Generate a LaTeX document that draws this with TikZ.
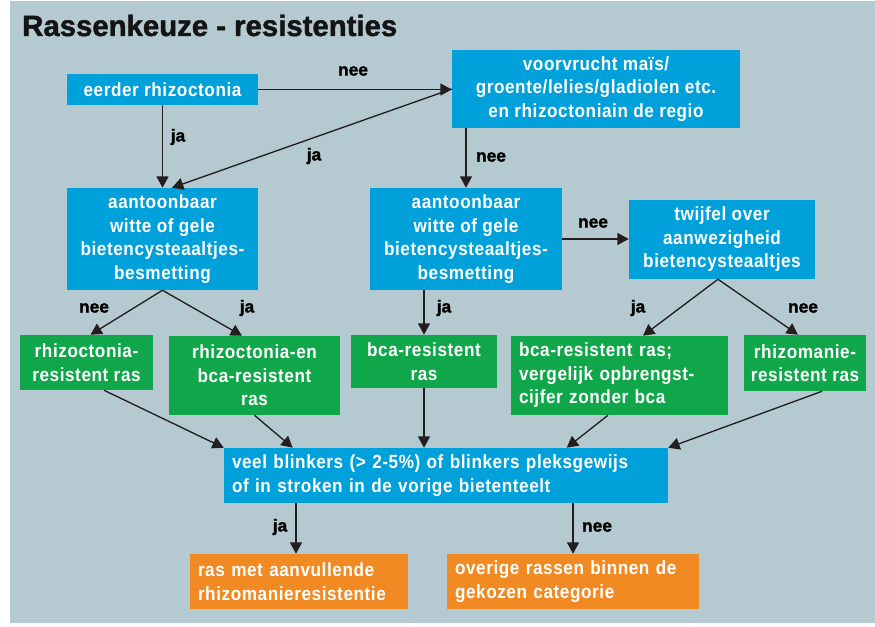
\documentclass[tikz,border=0pt]{standalone}
\usepackage{fontspec}
\setmainfont{Liberation Sans}
\newfontfamily\heavy[FakeBold=1.6]{Liberation Sans}
\newfontfamily\boxfont[FakeStretch=0.9,LetterSpace=3]{Liberation Sans}
\usetikzlibrary{arrows.meta,calc}
\definecolor{bg}{HTML}{B5C9D0}
\definecolor{bblue}{HTML}{00A0DB}
\definecolor{bgreen}{HTML}{10A64A}
\definecolor{borange}{HTML}{F18A22}
\definecolor{lin}{HTML}{231F20}
\begin{document}
\begin{tikzpicture}[x=0.75pt,y=-0.75pt,
  boxc/.style={inner sep=0pt, text=white, font=\boxfont\fontsize{14.3}{17.6}\selectfont\bfseries, align=center},
  boxl/.style={inner ysep=0pt, inner xsep=6pt, text=white, font=\boxfont\fontsize{14.3}{17.6}\selectfont\bfseries, align=left},
  blue/.style={fill=bblue},
  green/.style={fill=bgreen},
  orange/.style={fill=borange},
  lbl/.style={text=black, font=\heavy\fontsize{13}{15}\selectfont\bfseries, inner sep=0pt},
  arr/.style={draw=lin, line width=1pt, -{Triangle[length=8.5pt,width=9pt]}}
]
\useasboundingbox (0,0) rectangle (875,627);
\fill[bg] (10,1) rectangle (875,623);

\node[anchor=base west, inner sep=0pt, text=black!92, font=\heavy\fontsize{22}{26}\selectfont\bfseries] (title) at (22,36) {Rassenkeuze - resistenties};

% blue question boxes
\node[boxc, blue, minimum width=143.25pt, minimum height=23.25pt] (b1) at (162.5,89.5) {eerder rhizoctonia};
\node[boxc, blue, minimum width=216pt, minimum height=58.5pt] (b2) at (596,89) {voorvrucht maïs/\\groente/lelies/gladiolen etc.\\en rhizoctoniain de regio};
\node[boxc, blue, minimum width=143.25pt, minimum height=76.5pt] (b3) at (162.5,239) {aantoonbaar\\witte of gele\\bietencysteaaltjes-\\besmetting};
\node[boxc, blue, minimum width=144pt, minimum height=76.5pt] (b4) at (466,239) {aantoonbaar\\witte of gele\\bietencysteaaltjes-\\besmetting};
\node[boxc, blue, minimum width=139.5pt, minimum height=59.25pt] (b5) at (722,239.5) {twijfel over\\aanwezigheid\\bietencysteaaltjes};

% green result boxes
\node[boxc, green, minimum width=99.75pt, minimum height=41.25pt] (g1) at (86.5,362.5) {rhizoctonia-\\resistent ras};
\node[boxc, green, minimum width=128.25pt, minimum height=59.25pt] (g2) at (254.5,375.5) {rhizoctonia-en\\bca-resistent\\ras};
\node[boxc, green, minimum width=109.5pt, minimum height=39.75pt] (g3) at (424,361.5) {bca-resistent\\ras};
\node[boxl, green, text width=150.75pt, minimum height=59.25pt] (g4) at (619.5,375.5) {bca-resistent ras;\\vergelijk opbrengst-\\cijfer zonder bca};
\node[boxc, green, minimum width=91.5pt, minimum height=42pt] (g5) at (805,363) {rhizomanie-\\resistent ras};

% blinkers box
\node[boxl, blue, text width=321pt, minimum height=41.25pt] (v) at (446,475.5) {veel blinkers (> 2-5\%) of blinkers pleksgewijs\\of in stroken in de vorige bietenteelt};

% orange boxes
\node[boxl, orange, text width=151.5pt, minimum height=41.25pt] (o1) at (299,581.5) {ras met aanvullende\\rhizomanieresistentie};
\node[boxl, orange, text width=177pt, minimum height=41.25pt] (o2) at (573,581.5) {overige rassen binnen de\\gekozen categorie};

% connectors
\draw[arr] (b1.east) -- (b2.west|-b1.east);
\draw[arr] (b1.south) -- (b3.north);
\draw[arr] (b2.west) -- ($(b3.north)+(9.5,0)$);
\draw[arr] (b4.north|-b2.south) -- (b4.north);
\draw[arr] (b3.south) -- ($(g1.north)+(4,0)$);
\draw[arr] (b3.south) -- ($(g2.north)+(-12.5,0)$);
\draw[arr] (g3.north|-b4.south) -- (g3.north);
\draw[arr] (b4.east) -- (b4.east-|b5.west);
\draw[arr] ($(b5.south)+(-4,0)$) -- ($(g4.north)+(23.5,0)$);
\draw[arr] ($(b5.south)+(-4,0)$) -- ($(g5.north)+(-7,0)$);
\draw[arr] ($(g1.south)+(17.5,0)$) -- (v.north west);
\draw[arr] (g2.south) -- ($(v.north west)+(69,0)$);
\draw[arr] (g3.south) -- (g3.south|-v.north);
\draw[arr] ($(g4.south)+(-11.5,0)$) -- ($(v.north west)+(343,0)$);
\draw[arr] ($(g5.south)+(17,0)$) -- (v.north east);
\draw[arr] ($(o1.north|-v.south)+(-3,0)$) -- ($(o1.north)+(-3,0)$);
\draw[arr] (o2.north|-v.south) -- (o2.north);

% labels
\node[lbl] (l1) at (353,71) {nee};
\node[lbl] (l2) at (178,137) {ja};
\node[lbl] (l3) at (314,156) {ja};
\node[lbl] (l4) at (491,157) {nee};
\node[lbl] (l5) at (94,308) {nee};
\node[lbl] (l6) at (247,308) {ja};
\node[lbl] (l7) at (444,308) {ja};
\node[lbl] (l8) at (593,223) {nee};
\node[lbl] (l9) at (638,308) {ja};
\node[lbl] (l10) at (803,308) {nee};
\node[lbl] (l11) at (280,527) {ja};
\node[lbl] (l12) at (597,527) {nee};
\end{tikzpicture}
\end{document}
